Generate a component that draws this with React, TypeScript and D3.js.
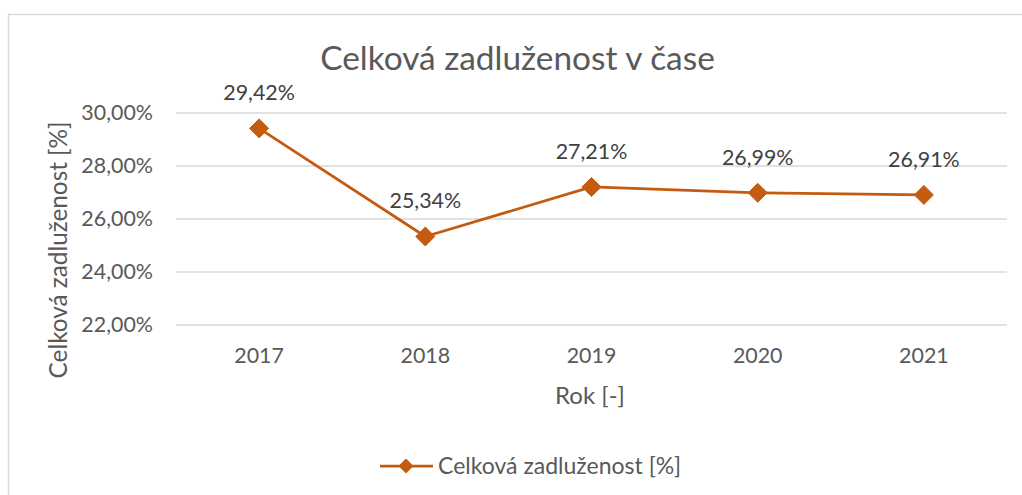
import React from "react";
import * as d3 from "d3";

const years = ["2017", "2018", "2019", "2020", "2021"];
const values = [29.42, 25.34, 27.21, 26.99, 26.91];
const yTicks = [22, 24, 26, 28, 30];
const title = "Celková zadluženost v čase";
const yTitle = "Celková zadluženost [%]";
const xTitle = "Rok [-]";
const seriesName = "Celková zadluženost [%]";

const W = 1022;
const H = 495;
const FONT = "Lato, 'Open Sans', sans-serif";
const TEXT = "#595959";
const LINE = "#C55A11";
const GRID = "#D9D9D9";

const fmt = (v: number) => v.toFixed(2).replace(".", ",") + "%";

function diamond(cx: number, cy: number, r: number) {
  return `M${cx},${cy - r}L${cx + r},${cy}L${cx},${cy + r}L${cx - r},${cy}Z`;
}

export default function App() {
  const x = d3.scaleBand<string>().domain(years).range([176, 1007]);
  const y = d3.scaleLinear().domain([22, 30]).range([325, 113]);
  const cx = (d: string) => (x(d) as number) + x.bandwidth() / 2;
  const line = d3
    .line<number>()
    .x((_, i) => cx(years[i]))
    .y((v) => y(v));

  return (
    <svg
      width={W}
      height={H}
      style={{ position: "absolute", left: 0, top: 0, background: "#fff" }}
      fontFamily={FONT}
    >
      <rect x={8.5} y={14.5} width={1100} height={600} fill="#fff" stroke={GRID} strokeWidth={1.5} />
      <text x={517.5} y={70} textAnchor="middle" fontSize={33.4} fill={TEXT}>
        {title}
      </text>
      {yTicks.map((t) => (
        <g key={t}>
          <line x1={176} x2={1007} y1={y(t)} y2={y(t)} stroke={GRID} strokeWidth={1.5} />
          <text x={153} y={y(t)} dy="0.35em" textAnchor="end" fontSize={21.4} fill={TEXT}>
            {fmt(t)}
          </text>
        </g>
      ))}
      {years.map((yr) => (
        <text key={yr} x={cx(yr)} y={363} textAnchor="middle" fontSize={21.4} fill={TEXT}>
          {yr}
        </text>
      ))}
      <text x={590} y={404} textAnchor="middle" fontSize={24} fill={TEXT}>
        {xTitle}
      </text>
      <text
        transform={`translate(67,250) rotate(-90)`}
        textAnchor="middle"
        fontSize={24.3}
        fill={TEXT}
      >
        {yTitle}
      </text>
      <path d={line(values) || ""} fill="none" stroke={LINE} strokeWidth={2.75} strokeLinejoin="round" />
      {values.map((v, i) => (
        <g key={years[i]}>
          <path d={diamond(cx(years[i]), y(v), 9.5)} fill={LINE} stroke={LINE} strokeWidth={1} />
          <text x={cx(years[i])} y={y(v) - 28} textAnchor="middle" fontSize={21.4} fill={"#404040"}>
            {fmt(v)}
          </text>
        </g>
      ))}
      <line x1={380} x2={433} y1={466} y2={466} stroke={LINE} strokeWidth={2.75} />
      <path d={diamond(406, 466, 7.5)} fill={LINE} />
      <text x={438} y={466} dy="0.35em" fontSize={23} fill={TEXT}>
        {seriesName}
      </text>
    </svg>
  );
}
